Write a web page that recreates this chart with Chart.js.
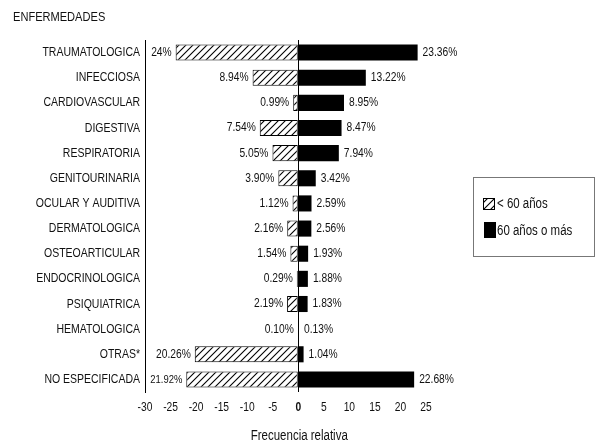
<!DOCTYPE html>
<html>
<head>
<meta charset="utf-8">
<script src="https://cdn.jsdelivr.net/npm/chart.js@4.4.1/dist/chart.umd.min.js"></script>
<style>
  html, body { margin: 0; padding: 0; background: #fff; }
  #wrap { position: relative; width: 595px; height: 444px; }
</style>
</head>
<body>
<div id="wrap"><canvas id="chart" width="595" height="444"></canvas></div>
<script>
const FONT = "'Liberation Sans', Arial, sans-serif";
const NARROW = 0.82; // el original usa una fuente estrecha

const categorias = [
  'TRAUMATOLOGICA', 'INFECCIOSA', 'CARDIOVASCULAR', 'DIGESTIVA', 'RESPIRATORIA',
  'GENITOURINARIA', 'OCULAR Y AUDITIVA', 'DERMATOLOGICA', 'OSTEOARTICULAR',
  'ENDOCRINOLOGICA', 'PSIQUIATRICA', 'HEMATOLOGICA', 'OTRAS*', 'NO ESPECIFICADA'
];
// < 60 años (se dibuja hacia la izquierda)
const menores60 = [24, 8.94, 0.99, 7.54, 5.05, 3.90, 1.12, 2.16, 1.54, 0.29, 2.19, 0.10, 20.26, 21.92];
// 60 años o más
const mayores60 = [23.36, 13.22, 8.95, 8.47, 7.94, 3.42, 2.59, 2.56, 1.93, 1.88, 1.83, 0.13, 1.04, 22.68];
const ticksX = [-30, -25, -20, -15, -10, -5, 0, 5, 10, 15, 20, 25];

// patron rayado
function makeHatch() {
  const s = 7;
  const c = document.createElement('canvas');
  c.width = s; c.height = s;
  const g = c.getContext('2d');
  g.fillStyle = '#fff';
  g.fillRect(0, 0, s, s);
  g.strokeStyle = '#000';
  g.lineWidth = 1.1;
  g.beginPath();
  g.moveTo(-1, s + 1); g.lineTo(s + 1, -1);
  g.moveTo(-1, 1); g.lineTo(1, -1);
  g.moveTo(s - 1, s + 1); g.lineTo(s + 1, s - 1);
  g.stroke();
  return g.createPattern(c, 'repeat');
}
const hatch = makeHatch();

const fmt = v => (Number.isInteger(v) ? v : v.toFixed(2)) + '%';

function textW(ctx, txt, size) {
  ctx.font = size + 'px ' + FONT;
  return ctx.measureText(txt).width * NARROW;
}

function narrowText(ctx, txt, x, y, align, size, weight) {
  ctx.save();
  ctx.font = (weight || 'normal') + ' ' + size + 'px ' + FONT;
  ctx.textAlign = align;
  ctx.textBaseline = 'middle';
  ctx.translate(x, y);
  ctx.scale(NARROW, 1);
  ctx.fillText(txt, 0, 0);
  ctx.restore();
}

const extras = {
  id: 'extras',
  afterDatasetsDraw(chart) {
    const ctx = chart.ctx;
    const area = chart.chartArea;
    ctx.save();
    ctx.fillStyle = '#111';
    chart.data.datasets.forEach((ds, di) => {
      chart.getDatasetMeta(di).data.forEach((bar, i) => {
        const txt = fmt(Math.abs(ds.data[i]));
        let size = 12.5;
        if (di === 0) {
          const x = bar.x - 4;
          while (x - textW(ctx, txt, size) < area.left + 5 && size > 8) size -= 1;
          narrowText(ctx, txt, x, bar.y, 'right', size);
        } else {
          narrowText(ctx, txt, bar.x + 5, bar.y, 'left', size);
        }
      });
    });
    ctx.restore();
  },
  afterDraw(chart) {
    const ctx = chart.ctx;
    const xs = chart.scales.x, ys = chart.scales.y;
    ctx.save();
    ctx.fillStyle = '#111';

    narrowText(ctx, 'ENFERMEDADES', 13, 17, 'left', 13.5);

    // etiquetas de categorias
    categorias.forEach((c, i) => {
      narrowText(ctx, c, ys.right - 5, ys.getPixelForTick(i), 'right', 12.8);
    });
    // etiquetas del eje x
    ticksX.forEach(v => {
      narrowText(ctx, String(v), xs.getPixelForValue(v), chart.chartArea.bottom + 16, 'center', 12.5,
        v === 0 ? 'bold' : 'normal');
    });
    narrowText(ctx, 'Frecuencia relativa', xs.getPixelForValue(0) + 1, 436, 'center', 14);

    // leyenda
    ctx.strokeStyle = '#777';
    ctx.lineWidth = 1;
    ctx.strokeRect(473.5, 177.5, 121, 79);
    const ds = chart.data.datasets;
    ctx.fillStyle = ds[0].backgroundColor;
    ctx.fillRect(483, 198, 11, 11);
    ctx.strokeStyle = '#000';
    ctx.strokeRect(483.5, 198.5, 11, 11);
    ctx.fillStyle = ds[1].backgroundColor;
    ctx.fillRect(484, 222, 12, 16);
    ctx.fillStyle = '#111';
    narrowText(ctx, ds[0].label, 497, 204, 'left', 14);
    narrowText(ctx, ds[1].label, 497, 231, 'left', 14);
    ctx.restore();
  }
};

new Chart(document.getElementById('chart'), {
  type: 'bar',
  data: {
    labels: categorias,
    datasets: [
      {
        label: '< 60 años',
        data: menores60.map(v => -v),
        backgroundColor: hatch,
        borderColor: '#000',
        borderWidth: 1,
        borderSkipped: false,
        categoryPercentage: 0.8,
        barPercentage: 0.8
      },
      {
        label: '60 años o más',
        data: mayores60,
        backgroundColor: '#000',
        borderWidth: 0,
        categoryPercentage: 0.8,
        barPercentage: 0.8
      }
    ]
  },
  options: {
    indexAxis: 'y',
    responsive: false,
    animation: false,
    layout: { padding: { left: 0, right: 169, top: 40, bottom: 22 } },
    plugins: { legend: { display: false }, tooltip: { enabled: false } },
    scales: {
      x: {
        stacked: true,
        min: -30,
        max: 25,
        afterBuildTicks(scale) { scale.ticks = ticksX.map(v => ({ value: v })); },
        afterFit(scale) { scale.height = 30; },
        border: { display: false },
        grid: {
          drawTicks: false,
          color: c => (c.tick && c.tick.value === 0 ? '#000' : 'rgba(0,0,0,0)'),
          lineWidth: 1
        },
        ticks: { display: false }
      },
      y: {
        stacked: true,
        afterFit(scale) { scale.width = 145; },
        border: { display: true, color: '#000', width: 1 },
        grid: { display: false, drawTicks: false },
        ticks: { display: false }
      }
    }
  },
  plugins: [extras]
});
</script>
</body>
</html>
